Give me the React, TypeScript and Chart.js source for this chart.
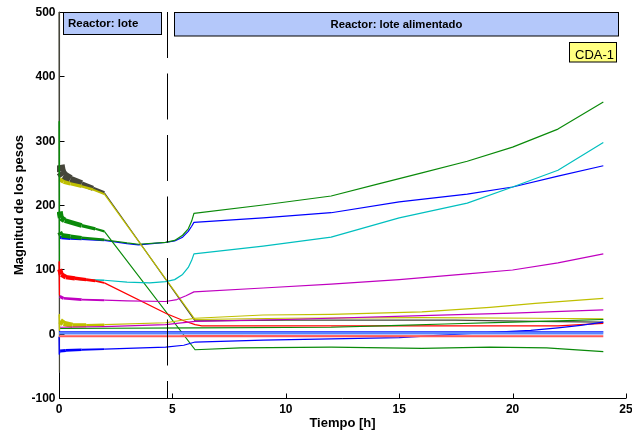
import React, { useEffect, useRef } from "react";
import { Chart, registerables } from "chart.js";

Chart.register(...registerables);

type Pt = [number, number];

// Axis ticks and texts
const xTicks = [0, 5, 10, 15, 20, 25];
const yTicks = [-100, 0, 100, 200, 300, 400, 500];
const xTitle = "Tiempo [h]";
const yTitle = "Magnitud de los pesos";
const phaseLabels = ["Reactor: lote", "Reactor: lote alimentado"];
const tagLabel = "CDA-1";
const phaseSwitch = 4.76; // hours: batch -> fed-batch

// Weight trajectories, [time h, weight]
const grayW: Pt[] = [
  [0, 500], [0.01, -60], [0.03, 262], [0.08, 252], [0.2, 246], [0.5, 240], [1, 233],
  [1.5, 226], [2, 219], [6, 20], [10, 21], [15, 21], [17.5, 21], [21, 19], [24, 18],
];
const yellowHi: Pt[] = [
  [0.03, 240], [0.2, 236], [0.5, 233], [1, 229], [1.5, 224], [2, 217], [6, 22],
  [10, 24], [16, 25], [21, 24], [24, 23],
];
const greenMid: Pt[] = [
  [0, 330], [0.01, 90], [0.03, 190], [0.08, 180], [0.25, 176], [1, 168], [1.6, 163],
  [2, 159], [6, -25], [8, -22], [12, -21], [16, -23], [19, -21], [21.5, -22], [24, -28],
];
const greenHi: Pt[] = [
  [0.03, 158], [0.1, 153], [0.5, 151], [1, 149], [2, 146], [3, 141], [3.5, 139],
  [4.7, 142], [5.1, 145], [5.45, 153], [5.7, 163], [5.85, 175], [5.95, 187], [9, 200],
  [12, 214], [14, 232], [16, 250], [18, 268], [20, 290], [22, 318], [24, 360],
];
const blueHi: Pt[] = [
  [0.03, 150], [0.1, 149], [0.5, 148], [1, 147], [2, 145], [3, 140], [3.5, 138],
  [4.7, 142], [5.1, 144], [5.45, 150], [5.7, 159], [5.85, 167], [5.95, 173], [9, 180],
  [12, 188], [15, 205], [18, 217], [20, 228], [22, 245], [24, 261],
];
const cyanW: Pt[] = [
  [0.15, 92], [0.4, 87], [1, 84], [2, 83], [3, 80], [4, 79], [4.7, 81], [5.1, 84],
  [5.45, 92], [5.7, 103], [5.85, 114], [5.95, 124], [9, 136], [12, 150], [15, 180],
  [18, 203], [20, 228], [22, 254], [24, 297],
];
const redW: Pt[] = [
  [0, 112], [0.01, 60], [0.03, 100], [0.1, 92], [0.3, 88], [0.7, 86], [1.2, 84],
  [1.6, 82], [2, 79], [4.75, 31], [5.5, 20], [6, 14], [6.3, 12], [15, 12], [22, 12],
  [23, 14], [24, 16],
];
const magentaHi: Pt[] = [
  [0.03, 58], [0.2, 55], [1, 53], [2, 52], [3, 51], [4.7, 50], [5.2, 53], [5.6, 59],
  [5.95, 65], [9, 71], [12, 77], [15, 84], [18, 93], [20, 99], [22, 110], [24, 124],
];
const magentaLo: Pt[] = [
  [0.05, 10], [2, 11], [4.7, 14], [6, 19], [10, 22], [16, 28], [20, 32], [24, 37],
];
const yellowLo: Pt[] = [
  [0, 30], [0.02, 5], [0.05, 20], [0.2, 16], [0.6, 13], [1.2, 13], [2, 14], [4.7, 17],
  [6, 24], [9, 29], [12, 30], [16, 34], [19, 41], [21, 47], [24, 55],
];
const greenLo: Pt[] = [
  [0.05, 8], [6, 9], [12, 10], [15, 13], [17, 15], [20, 18], [22, 20], [24, 22],
];
const blueFlat: Pt[] = [[0, 3], [24, 3]];
const paleBlueFlat: Pt[] = [[0, 0.8], [24, 0.8]];
const redFlat: Pt[] = [[0, -4], [5.3, -4], [5.5, -3.5], [24, -4]];
const blueLo: Pt[] = [
  [0, -5], [0.01, -32], [0.05, -27], [0.3, -26], [1, -25], [2, -24], [3, -23],
  [4.7, -21], [5.5, -18], [6, -13], [9, -10], [12, -8], [15, -6], [18, 0], [20.8, 5],
  [22, 9], [23, 13], [24, 18],
];

// Drawing order: first entries are painted underneath
const series = [
  { points: redFlat, color: "#ff5a5a", width: 2, noise: 0 },
  { points: paleBlueFlat, color: "#5b86ff", width: 2.6, noise: 0 },
  { points: blueFlat, color: "#0000ff", width: 1.2, noise: 0 },
  { points: greenLo, color: "#0a8a0a", width: 1.2, noise: 1 },
  { points: magentaLo, color: "#c000c0", width: 1.2, noise: 0 },
  { points: yellowLo, color: "#bfbf00", width: 1.2, noise: 5 },
  { points: blueLo, color: "#0000ff", width: 1.2, noise: 2 },
  { points: magentaHi, color: "#c000c0", width: 1.2, noise: 2 },
  { points: redW, color: "#ff0000", width: 1.2, noise: 4 },
  { points: cyanW, color: "#00bfbf", width: 1.2, noise: 1 },
  { points: greenMid, color: "#0a8a0a", width: 1.2, noise: 5 },
  { points: yellowHi, color: "#bfbf00", width: 1.2, noise: 3 },
  { points: grayW, color: "#45453a", width: 1.2, noise: 9 },
  { points: greenHi, color: "#0a8a0a", width: 1.2, noise: 4 },
  { points: blueHi, color: "#0000ff", width: 1.2, noise: 2 },
];

const FONT = "'Liberation Sans', Arial, sans-serif";

// Early oscillations of the estimator are shown as a thicker stroke that thins out;
// the start-up spikes at t = 0 stay thin
const segWidth = (noise: number, base: number, ctx: any) => {
  const t0 = ctx.p0.parsed.x;
  const t = (t0 + ctx.p1.parsed.x) / 2;
  if (!noise || t0 < 0.025) return base;
  return base + noise * Math.max(0, 1 - t / 2.2);
};

const framePlugin = {
  id: "matlabFrame",
  beforeDatasetsDraw(chart: any) {
    const { ctx, chartArea: a, scales } = chart;
    const x = scales.x;
    const y = scales.y;
    const L = Math.round(a.left) + 0.5;
    const B = Math.round(a.bottom) + 0.5;
    ctx.save();
    ctx.strokeStyle = "#000";
    ctx.lineWidth = 1;
    ctx.beginPath();
    ctx.moveTo(L, a.top);
    ctx.lineTo(L, B);
    ctx.lineTo(a.right, B);
    yTicks.forEach((v) => {
      const py = Math.round(y.getPixelForValue(v)) + 0.5;
      ctx.moveTo(L, py);
      ctx.lineTo(L + 5, py);
    });
    xTicks.forEach((v) => {
      const px = Math.round(x.getPixelForValue(v)) + 0.5;
      ctx.moveTo(px, B);
      ctx.lineTo(px, B - 5);
    });
    ctx.stroke();

    ctx.fillStyle = "#000";
    ctx.font = `bold 12px ${FONT}`;
    ctx.textBaseline = "alphabetic";
    ctx.textAlign = "right";
    yTicks.forEach((v) => ctx.fillText(String(v), L - 4, y.getPixelForValue(v) + 4));
    ctx.textAlign = "center";
    xTicks.forEach((v) => ctx.fillText(String(v), x.getPixelForValue(v), B + 14));

    ctx.font = `bold 13px ${FONT}`;
    ctx.fillText(xTitle, (a.left + a.right) / 2, 427);
    ctx.save();
    ctx.translate(22.5, (a.top + a.bottom) / 2);
    ctx.rotate(-Math.PI / 2);
    ctx.fillText(yTitle, 0, 0);
    ctx.restore();
    ctx.restore();
  },
  afterDatasetsDraw(chart: any) {
    const { ctx, chartArea: a, scales } = chart;
    const x = scales.x;
    ctx.save();
    // phase switch marker
    const sx = Math.round(x.getPixelForValue(phaseSwitch)) + 0.5;
    ctx.strokeStyle = "#000";
    ctx.lineWidth = 1;
    ctx.setLineDash([46, 15.5]);
    ctx.beginPath();
    ctx.moveTo(sx, a.top);
    ctx.lineTo(sx, a.bottom);
    ctx.stroke();
    ctx.setLineDash([]);

    // phase banners
    ctx.fillStyle = "#b4c8fa";
    ctx.fillRect(63.5, 12.5, 98, 22);
    ctx.strokeRect(63.5, 12.5, 98, 22);
    ctx.fillRect(174.5, 12.5, 444, 23.5);
    ctx.strokeRect(174.5, 12.5, 444, 23.5);
    ctx.fillStyle = "#000";
    ctx.font = `bold 11.5px ${FONT}`;
    ctx.textAlign = "left";
    ctx.textBaseline = "alphabetic";
    ctx.fillText(phaseLabels[0], 68, 27);
    ctx.font = `bold 11.3px ${FONT}`;
    ctx.textAlign = "center";
    ctx.fillText(phaseLabels[1], 396.5, 27.5);

    // run tag
    ctx.fillStyle = "#ffff80";
    ctx.fillRect(569.5, 42.5, 47, 19.5);
    ctx.strokeRect(569.5, 42.5, 47, 19.5);
    ctx.fillStyle = "#000";
    ctx.font = `13px ${FONT}`;
    ctx.textAlign = "left";
    ctx.fillText(tagLabel, 575, 59);
    ctx.restore();
  },
};

export default function App() {
  const ref = useRef<HTMLCanvasElement>(null);

  useEffect(() => {
    document.body.style.margin = "0";
    const canvas = ref.current;
    if (!canvas) return;
    const chart = new Chart(canvas, {
      type: "line",
      data: {
        datasets: series.map((s) => ({
          data: s.points.map(([px, py]) => ({ x: px, y: py })),
          borderColor: s.color,
          borderWidth: s.width,
          pointRadius: 0,
          tension: 0,
          fill: false,
          clip: 2,
          borderJoinStyle: "round",
          segment: {
            borderWidth: (ctx: any) => segWidth(s.noise, s.width, ctx),
          },
        })),
      },
      options: {
        animation: false,
        responsive: false,
        devicePixelRatio: 1,
        layout: { padding: { left: 59, right: 6, top: 12, bottom: 40 } },
        plugins: { legend: { display: false }, tooltip: { enabled: false } },
        scales: {
          x: { type: "linear", min: 0, max: 25, display: false },
          y: { type: "linear", min: -100, max: 500, display: false },
        },
      },
      plugins: [framePlugin],
    } as any);
    return () => chart.destroy();
  }, []);

  return (
    <div style={{ width: 632, height: 438, position: "relative", background: "#fff" }}>
      <canvas ref={ref} width={632} height={438} style={{ display: "block", width: 632, height: 438 }} />
    </div>
  );
}
